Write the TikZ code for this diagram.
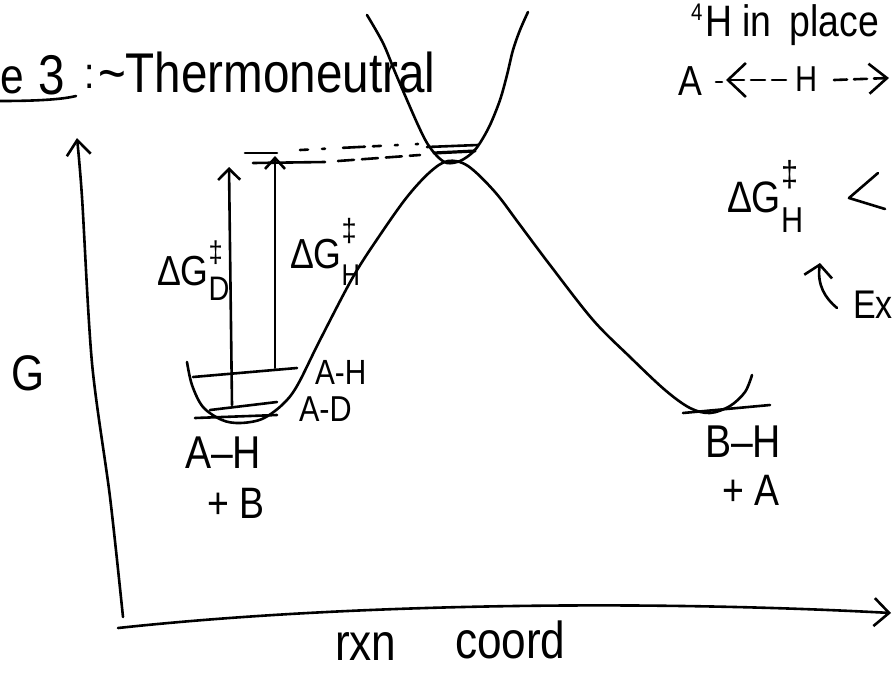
\documentclass[tikz,border=0pt]{standalone}
\usepackage{fontspec}
\setmainfont{Liberation Sans}
\newfontfamily\hand[FakeStretch=0.85]{Liberation Sans}
\usetikzlibrary{arrows.meta}
\newcommand{\fs}[1]{\fontsize{#1}{#1}\selectfont}
\tikzset{
  ink/.style={line width=2.6pt, line cap=round, line join=round},
  lbl/.style={anchor=base west, inner sep=0pt, outer sep=0pt, font=\hand},
}
\begin{document}
\begin{tikzpicture}[x=1pt,y=-1pt]
\useasboundingbox (0,0) rectangle (894,673);

% ---- title ----
\node[lbl] (e) at (1,93) {\fs{50}e};
\node[lbl] (three) at (38,94) {\fs{56}3};
\node[lbl] (colon) at (84,88) {\fs{44}:};
\node[lbl] (title) at (98,92) {\fs{56}\textasciitilde Thermoneutral};
\draw[ink] (0,101) .. controls (30,101) and (60,100) .. (76,96);

% ---- top right notes ----
\node[lbl] (four) at (691,20) {\fs{24}4};
\node[lbl] (inplace) at (705,36) {\fs{44}H in\hspace{8pt} place};
\node[lbl] (Aleft) at (678,95) {\fs{42}A};
\node[lbl] (Hmid) at (795,91) {\fs{36}H};
\coordinate (tipL) at (726,80);
\coordinate (tipR) at (889,78);
\draw[ink] (716,82) -- (722,82);
\draw[ink, dash pattern=on 14pt off 7pt, -{Straight Barb[length=18pt,width=34pt]}] (786,80) -- (tipL);
\draw[ink, dash pattern=on 13pt off 7pt, -{Straight Barb[length=18pt,width=30pt]}] (834,80) -- (tipR);

\node[lbl] (dgR) at (727,212) {\fs{44}ΔG\rlap{\raisebox{26pt}{\fs{36}‡}}\raisebox{-20pt}{\fs{36}H}};
\draw[ink] (878,173) -- (849,198) -- (885,209);
\draw[ink, -{Straight Barb[length=12pt,width=28pt]}] (837,308) .. controls (825,298) and (817,285) .. (820,263);
\node[lbl] (Ex) at (853,318) {\fs{40}Ex};

% ---- axes ----
\draw[ink, -{Straight Barb[length=15pt,width=24pt]}] plot[smooth] coordinates {(123,617) (110,497) (92,363) (82,197) (77,138)};
\draw[ink, -{Straight Barb[length=15pt,width=28pt]}] (118,628) .. controls (350,603) and (650,600) .. (891,613);
\node[lbl] (G) at (12,390) {\fs{50}G};
\node[lbl] (rxn) at (335,660) {\fs{52}rxn};
\node[lbl] (coord) at (455,658) {\fs{52}coord};

% ---- energy curve ----
\draw[ink] plot[smooth, tension=0.55] coordinates {
  (187,362) (192,385) (203,407) (222,420) (240,423) (262,419) (282,405) (297,386)
  (320,340) (353,277) (380,235) (407,197) (430,172) (448,161) (468,166) (495,192)
  (520,225) (550,265) (593,320) (630,357) (665,390) (690,408) (710,413) (730,406)
  (745,392) (752,375)};

% ---- TS well ----
\draw[ink] plot[smooth, tension=0.55] coordinates {
  (367,15) (383,43) (395,72) (407,100) (418,125) (427,143) (437,156) (447,163)
  (460,161) (472,153) (480,143) (490,125) (500,100) (507,75) (513,50) (520,30) (528,12)};
\draw[ink] (427,147) -- (478,145);
\draw[ink, line width=3.2pt] (434,153) -- (475,151);

% ---- dashed TS levels ----
\draw[ink] (245,153) -- (277,153);
\draw[ink, dash pattern=on 8pt off 14pt on 3pt off 18pt on 22pt off 8pt] (300,150) -- (418,144);
\draw[ink] (253,163) -- (325,162);
\draw[ink, dash pattern=on 16pt off 8pt] (338,161) -- (420,155);

% ---- barrier arrows ----
\draw[ink, -{Straight Barb[length=11pt,width=22pt]}] (232,405) -- (229,167);
\draw[ink, -{Straight Barb[length=11pt,width=20pt]}] (275,368) -- (275,156);
\node[lbl] (dgD) at (157,285) {\fs{42}ΔG\rlap{\raisebox{23pt}{\fs{30}‡}}\raisebox{-15pt}{\fs{34}D}};
\node[lbl] (dgH) at (290,268) {\fs{42}ΔG\rlap{\raisebox{27pt}{\fs{32}‡}}\raisebox{-17pt}{\fs{30}H}};

% ---- left well levels ----
\draw[ink] (193,377) -- (297,368);
\draw[ink] (210,410) -- (277,402);
\draw[ink] (195,418) -- (277,415);
\node[lbl] (AHlev) at (315,384) {\fs{35}A-H};
\node[lbl] (ADlev) at (299,421) {\fs{36}A-D};
\node[lbl] (AHlow) at (185,468) {\fs{46}A–H};
\node[lbl] (plusB) at (207,518) {\fs{44}+ B};

% ---- right well ----
\draw[ink] (683,413) -- (770,405);
\node[lbl] (BH) at (705,457) {\fs{46}B–H};
\node[lbl] (plusA) at (722,505) {\fs{44}+ A};
\end{tikzpicture}
\end{document}
